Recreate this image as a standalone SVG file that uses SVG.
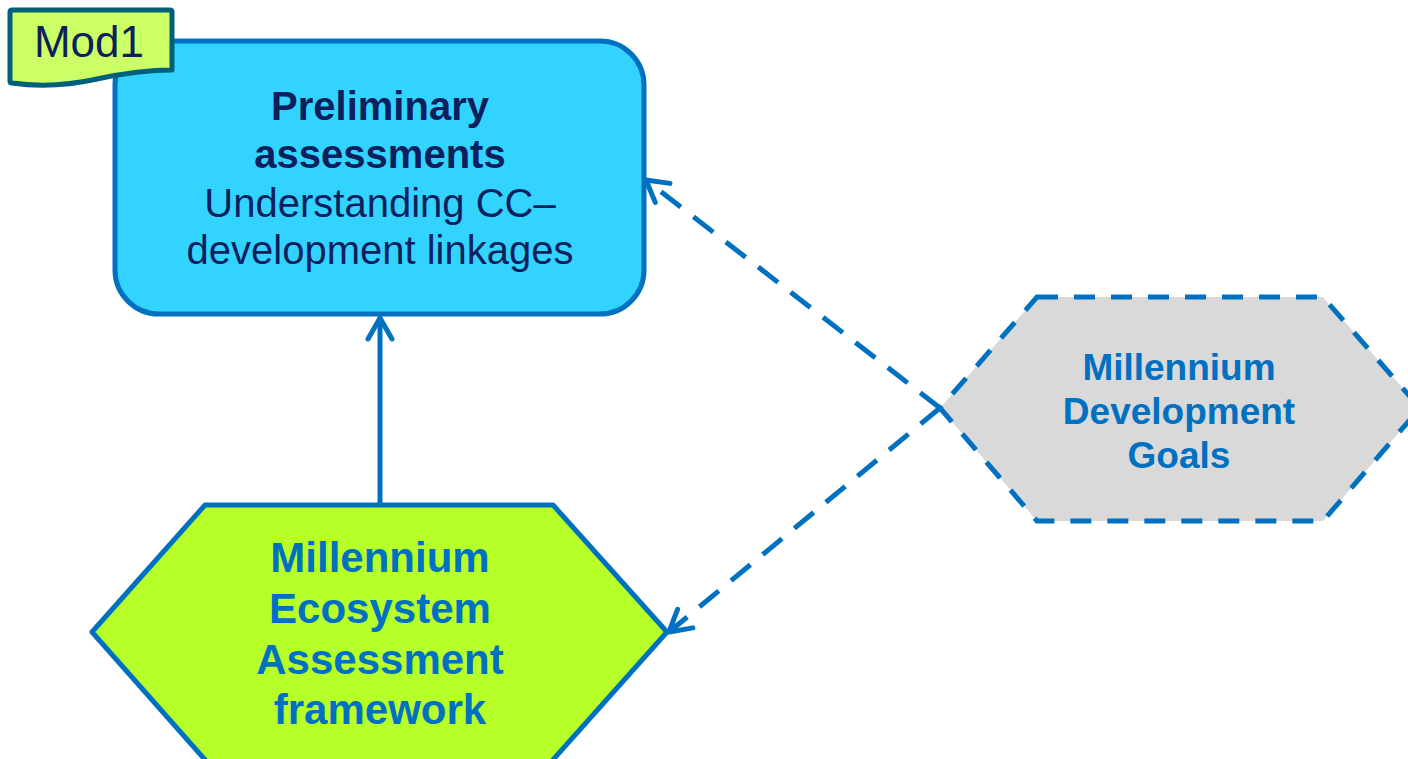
<svg xmlns="http://www.w3.org/2000/svg" width="1408" height="759" viewBox="0 0 1408 759">
<style>
.t{font-family:"Liberation Sans",Arial,sans-serif;text-anchor:middle}
.b{font-weight:bold}
.conn{fill:none;stroke:#0070c0;stroke-width:5}
.dash{stroke-dasharray:25 16}
</style>
<defs>
<marker id="arr" markerUnits="userSpaceOnUse" markerWidth="40" markerHeight="40" viewBox="-28 -20 40 40" refX="0" refY="0" orient="auto">
<path d="M-21,-12 L0,0 L-21,12" fill="none" stroke="#0070c0" stroke-width="5" stroke-linecap="round" stroke-linejoin="round"/>
</marker>
</defs>
<rect width="1408" height="759" fill="#ffffff"/>
<g id="prelim">
<rect x="115" y="41" width="529" height="273" rx="44" ry="44" fill="#33d3ff" stroke="#0070c0" stroke-width="5"/>
<text class="t b" x="380" y="120" font-size="40" fill="#0d1f5c">Preliminary</text>
<text class="t b" x="380" y="168" font-size="40" fill="#0d1f5c">assessments</text>
<text class="t" x="380" y="217" font-size="40" fill="#0d1f5c">Understanding CC–</text>
<text class="t" x="380" y="264" font-size="40" fill="#0d1f5c">development linkages</text>
</g>
<g id="mod1">
<path d="M12,10 L170,10 Q172,10 172,12 L172,70 C150,70 125,73 97,79 C70,85 40,87 12,83 Q10,83 10,81 L10,12 Q10,10 12,10 Z" fill="#ccff66" stroke="#00607a" stroke-width="5" stroke-linejoin="round"/>
<text class="t" x="89" y="57" font-size="44" fill="#0d1f5c">Mod1</text>
</g>
<g id="mea">
<polygon points="205,505 553,505 667,632 551,762 207,762 92,632" fill="#b6ff29" stroke="#0070c0" stroke-width="5" stroke-linejoin="round"/>
<text class="t b" x="380" y="572" font-size="42" fill="#0070c0">Millennium</text>
<text class="t b" x="380" y="623" font-size="42" fill="#0070c0">Ecosystem</text>
<text class="t b" x="380" y="674" font-size="42" fill="#0070c0">Assessment</text>
<text class="t b" x="380" y="724" font-size="42" fill="#0070c0">framework</text>
</g>
<g id="mdg">
<polygon points="1037,297 1323,297 1420,408 1323,521 1037,521 940,408" fill="#d9d9d9" stroke="#0070c0" stroke-width="5" stroke-dasharray="21 16"/>
<text class="t b" x="1179" y="380" font-size="37" fill="#0070c0">Millennium</text>
<text class="t b" x="1179" y="424" font-size="37" fill="#0070c0">Development</text>
<text class="t b" x="1179" y="468" font-size="37" fill="#0070c0">Goals</text>
</g>
<g id="connectors">
<line class="conn" x1="380" y1="503" x2="380" y2="318" marker-end="url(#arr)"/>
<line class="conn dash" x1="940" y1="408" x2="646" y2="180" marker-end="url(#arr)"/>
<line class="conn dash" x1="940" y1="408" x2="669" y2="632" marker-end="url(#arr)"/>
</g>
</svg>
